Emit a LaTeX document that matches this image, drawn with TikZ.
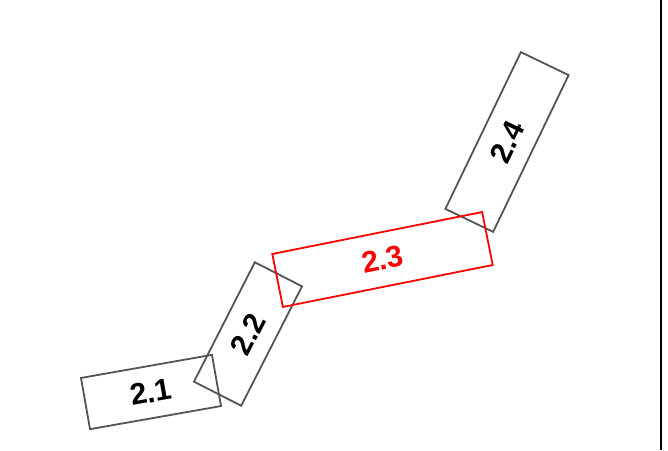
\documentclass[tikz,border=0pt]{standalone}
\usepackage{fontspec}
\setmainfont{Liberation Sans}
\begin{document}
\begin{tikzpicture}[x=1pt,y=-1pt,
  gbox/.style={draw=black!67, line width=1.8pt, inner sep=0pt, font=\fontsize{30}{36}\selectfont\bfseries, text=black},
  rbox/.style={draw=red, line width=1.8pt, inner sep=0pt, font=\fontsize{30}{36}\selectfont\bfseries, text=red}]
\useasboundingbox (0,0) rectangle (668,450);
\node[gbox, rotate=10, minimum width=133pt, minimum height=52pt] (b21) at (151,392) {2.1};
\node[gbox, rotate=63, minimum width=134pt, minimum height=53pt] (b22) at (248,334) {2.2};
\node[gbox, rotate=64.3, minimum width=174pt, minimum height=53pt] (b24) at (507,142) {2.4};
\node[rbox, rotate=11.3, minimum width=214pt, minimum height=54pt] (b23) at (382.5,259.5) {2.3};
\coordinate (ltop) at (661,0);
\coordinate (lbot) at (661,450);
\draw[line width=1.6pt, black] (ltop) -- (lbot);
\end{tikzpicture}
\end{document}
